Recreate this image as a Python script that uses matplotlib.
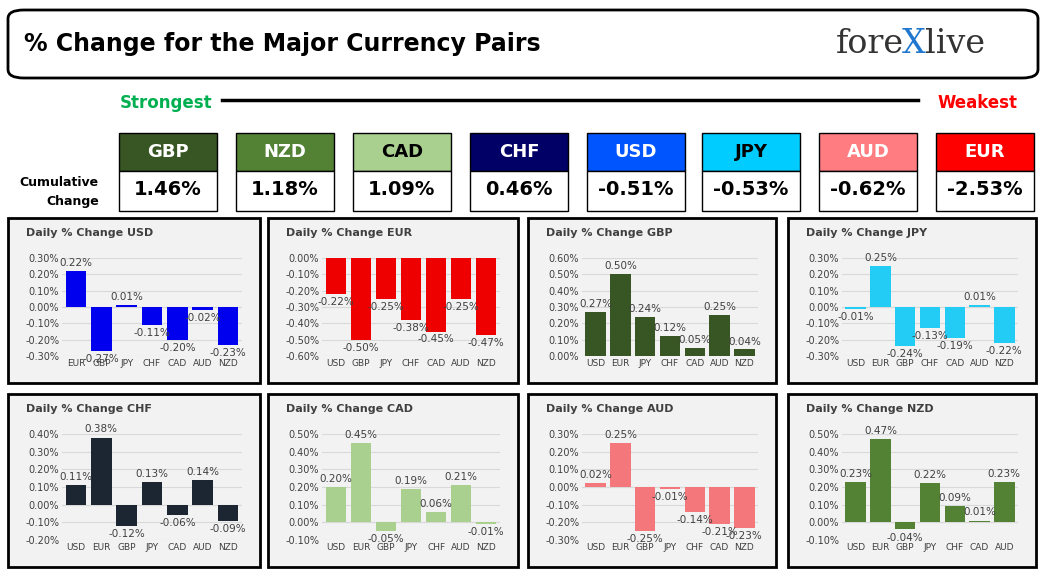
import matplotlib
matplotlib.use("Agg")
import matplotlib.pyplot as plt
from matplotlib.patches import FancyBboxPatch, Rectangle

W, H = 1046, 574
rank_ccy = ["GBP", "NZD", "CAD", "CHF", "USD", "JPY", "AUD", "EUR"]
rank_vals = ["1.46%", "1.18%", "1.09%", "0.46%", "-0.51%", "-0.53%", "-0.62%", "-2.53%"]
rank_colors = ["#375623", "#548235", "#a9d08e", "#000066", "#0055ff", "#00ccff", "#ff7c80", "#ff0000"]
rank_txt = ["white", "white", "black", "white", "white", "black", "white", "white"]

panels = [
    ("USD", ["EUR", "GBP", "JPY", "CHF", "CAD", "AUD", "NZD"], [0.22, -0.27, 0.01, -0.11, -0.20, -0.02, -0.23], (-0.3, 0.3), "#0000ee"),
    ("EUR", ["USD", "GBP", "JPY", "CHF", "CAD", "AUD", "NZD"], [-0.22, -0.50, -0.25, -0.38, -0.45, -0.25, -0.47], (-0.6, 0.0), "#ee0000"),
    ("GBP", ["USD", "EUR", "JPY", "CHF", "CAD", "AUD", "NZD"], [0.27, 0.50, 0.24, 0.12, 0.05, 0.25, 0.04], (0.0, 0.6), "#375623"),
    ("JPY", ["USD", "EUR", "GBP", "CHF", "CAD", "AUD", "NZD"], [-0.01, 0.25, -0.24, -0.13, -0.19, 0.01, -0.22], (-0.3, 0.3), "#22ccf5"),
    ("CHF", ["USD", "EUR", "GBP", "JPY", "CAD", "AUD", "NZD"], [0.11, 0.38, -0.12, 0.13, -0.06, 0.14, -0.09], (-0.2, 0.4), "#1c2633"),
    ("CAD", ["USD", "EUR", "GBP", "JPY", "CHF", "AUD", "NZD"], [0.20, 0.45, -0.05, 0.19, 0.06, 0.21, -0.01], (-0.1, 0.5), "#a9d08e"),
    ("AUD", ["USD", "EUR", "GBP", "JPY", "CHF", "CAD", "NZD"], [0.02, 0.25, -0.25, -0.01, -0.14, -0.21, -0.23], (-0.3, 0.3), "#f4777c"),
    ("NZD", ["USD", "EUR", "GBP", "JPY", "CHF", "CAD", "AUD"], [0.23, 0.47, -0.04, 0.22, 0.09, 0.01, 0.23], (-0.1, 0.5), "#548235"),
]

fig = plt.figure(figsize=(W / 100, H / 100), dpi=100)
fig.patch.set_facecolor("white")

def fr(x0, y0, x1, y1):
    return [x0 / W, 1 - y1 / H, (x1 - x0) / W, (y1 - y0) / H]

def fx(x): return x / W
def fy(y): return 1 - y / H

fig.patches.append(FancyBboxPatch((fx(8), fy(78)), (1030) / W, 68 / H, boxstyle="round,pad=0,rounding_size=0.015",
                                  transform=fig.transFigure, fill=False, lw=2, ec="black"))
fig.text(fx(24), fy(44), "% Change for the Major Currency Pairs", fontsize=17, fontweight="bold", va="center")
fig.text(fx(836), fy(44), "fore", fontsize=24, color="#333333", va="center", family="DejaVu Serif")
fig.text(fx(902), fy(44), "X", fontsize=24, color="#1f77d0", va="center", family="DejaVu Serif")
fig.text(fx(925), fy(44), "live", fontsize=24, color="#333333", va="center", family="DejaVu Serif")

fig.text(fx(166), fy(103), "Strongest", fontsize=12, fontweight="bold", color="#00b050", ha="center", va="center")
fig.text(fx(977), fy(103), "Weakest", fontsize=12, fontweight="bold", color="#ff0000", ha="center", va="center")
fig.add_artist(plt.Line2D([fx(222), fx(918)], [fy(100), fy(100)], color="black", lw=2.5, transform=fig.transFigure))
fig.text(fx(99), fy(182), "Cumulative", fontsize=9, fontweight="bold", ha="right", va="center")
fig.text(fx(99), fy(201), "Change", fontsize=9, fontweight="bold", ha="right", va="center")

xs = [119, 236, 353, 470, 587, 702, 819, 936]
for i, c in enumerate(rank_ccy):
    x0 = xs[i]
    fig.patches.append(Rectangle((fx(x0), fy(171)), 98 / W, 38 / H, transform=fig.transFigure, fc=rank_colors[i], ec="black", lw=1))
    fig.patches.append(Rectangle((fx(x0), fy(211)), 98 / W, 40 / H, transform=fig.transFigure, fc="white", ec="black", lw=1))
    fig.text(fx(x0 + 49), fy(152), c, fontsize=13, fontweight="bold", color=rank_txt[i], ha="center", va="center")
    fig.text(fx(x0 + 49), fy(190), rank_vals[i], fontsize=14, fontweight="bold", ha="center", va="center")

cols = [(8, 260), (268, 518), (528, 776), (788, 1036)]
rows = [(218, 383), (394, 567)]
for k, (name, cats, vals, (lo, hi), col) in enumerate(panels):
    r, c = divmod(k, 4)
    x0, x1 = cols[c]
    y0, y1 = rows[r]
    fig.patches.append(Rectangle((fx(x0), fy(y1)), (x1 - x0) / W, (y1 - y0) / H, transform=fig.transFigure,
                                 fc="#f2f2f2", ec="black", lw=2, zorder=-5))
    fig.text(fx(x0 + 18), fy(y0 + 15), f"Daily % Change {name}", fontsize=8, fontweight="bold", color="#404040", va="center")
    ax = fig.add_axes(fr(x0 + 54, y0 + 40, x1 - 18, y1 - 27))
    ax.set_zorder(3)
    ax.patch.set_alpha(0)
    ax.bar(range(len(vals)), vals, width=0.82, color=col, zorder=3)
    ax.set_ylim(lo, hi)
    ax.set_xlim(-0.55, len(vals) - 0.45)
    ticks = [lo + 0.1 * i for i in range(7)]
    ax.set_yticks(ticks)
    ax.set_yticklabels([f"{t:.2f}%".replace("-0.00", "0.00") for t in ticks], fontsize=7, color="#404040")
    ax.set_xticks(range(len(vals)))
    ax.set_xticklabels(cats, fontsize=6.5, color="#404040")
    ax.grid(axis="y", color="#d9d9d9", lw=0.8, zorder=0)
    ax.axhline(0, color="#d9d9d9", lw=0.8, zorder=1)
    for s in ax.spines.values():
        s.set_visible(False)
    ax.tick_params(length=0, pad=2)
    off = (hi - lo) * 0.03
    for i, v in enumerate(vals):
        ax.text(i, v + off if v >= 0 else v - off, f"{v:.2f}%", ha="center", va="bottom" if v >= 0 else "top",
                fontsize=7.5, color="#404040", zorder=4, clip_on=False)

fig.savefig("out.png", dpi=100, facecolor="white")
